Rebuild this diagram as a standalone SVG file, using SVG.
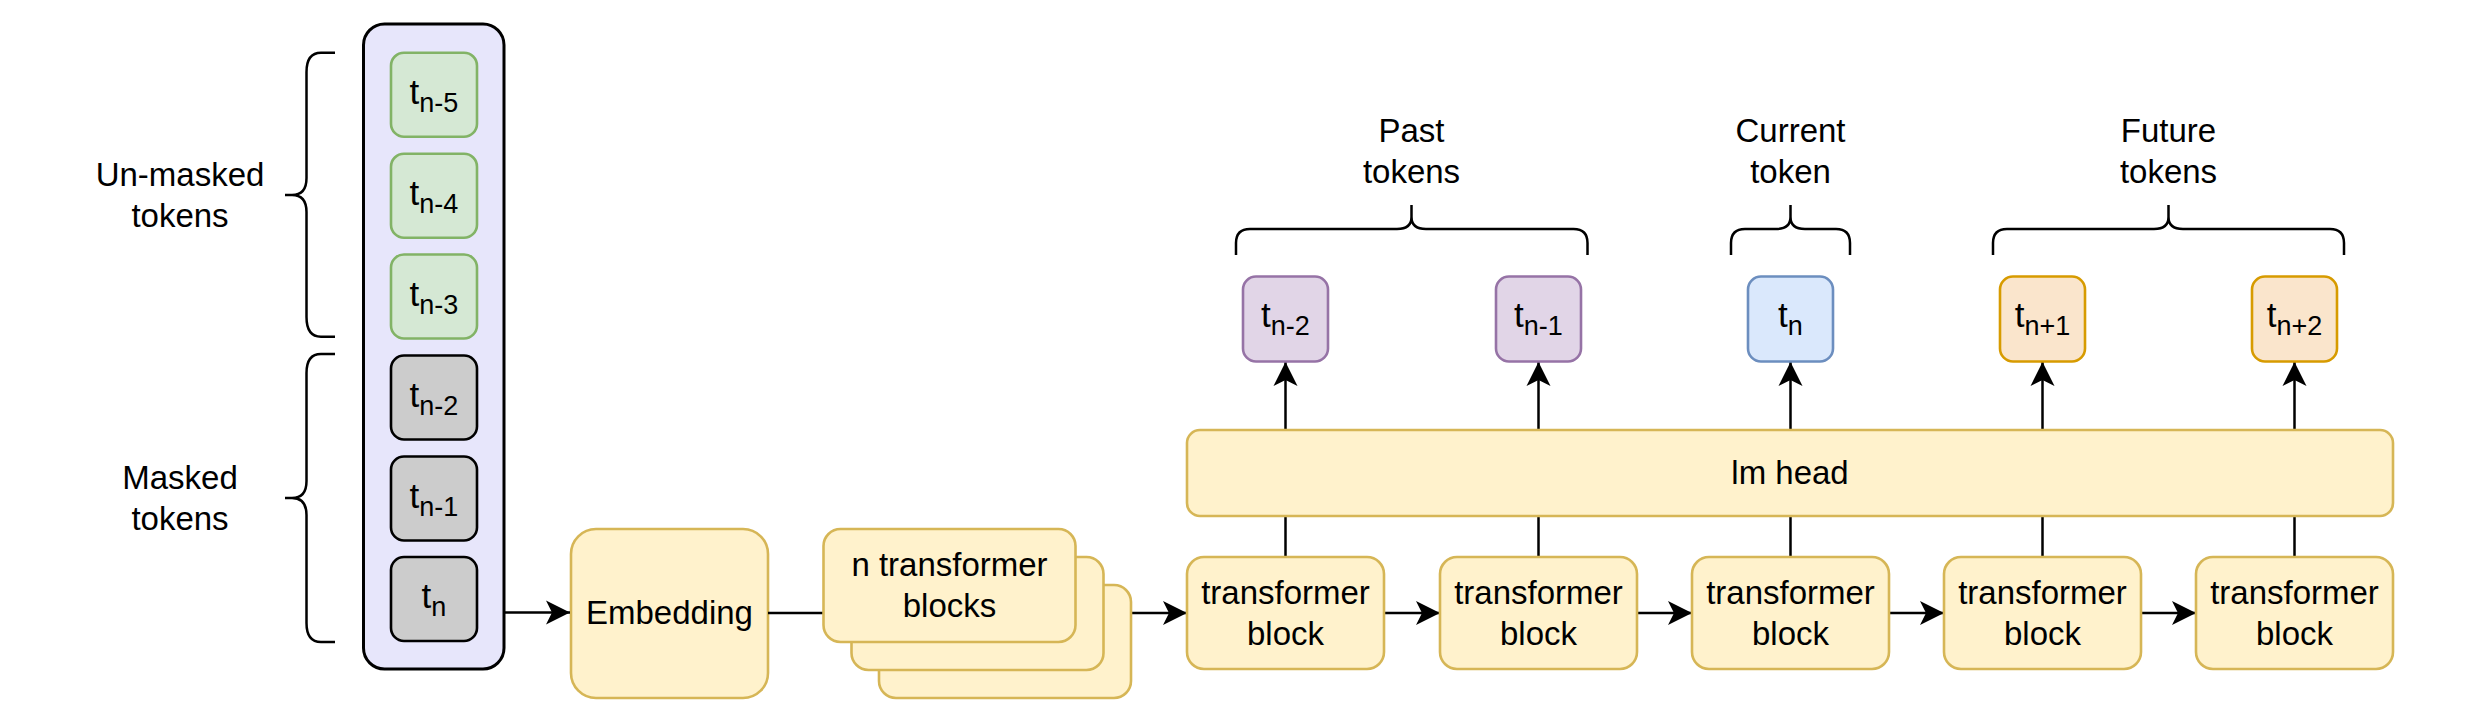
<svg xmlns="http://www.w3.org/2000/svg" width="2478" height="725" viewBox="0 0 2478 725">
<defs>
<style>
text{font-family:"Liberation Sans",Arial,Helvetica,sans-serif;font-size:33px;fill:#000;text-anchor:middle}
.tok{font-size:35px}
.sub{font-size:27px}
.yel{fill:#fff2cc;stroke:#d6b656;stroke-width:2.6}
.grn{fill:#d5e8d4;stroke:#82b366;stroke-width:2.6}
.gry{fill:#cccccc;stroke:#000;stroke-width:2.6}
.pur{fill:#e1d5e7;stroke:#9673a6;stroke-width:2.6}
.blu{fill:#dae8fc;stroke:#6c8ebf;stroke-width:2.6}
.org{fill:#fae5cc;stroke:#d79b00;stroke-width:2.6}
.edge{fill:none;stroke:#000;stroke-width:2.5}
.brace{fill:none;stroke:#000;stroke-width:2.5}
</style>
<marker id="arr" markerUnits="userSpaceOnUse" viewBox="-25 -13 26 26" markerWidth="26" markerHeight="26" refX="0" refY="0" orient="auto">
<path d="M0,0 L-24,-12 L-18,0 L-24,12 Z" fill="#000"/>
</marker>
</defs>
<rect width="2478" height="725" fill="#fff"/>

<g id="brace-unmasked">
<path class="brace" d="M335,52.7 H321 Q306.5,52.7 306.5,72 V178 Q306.5,195 292,195 H285 M292,195 Q306.5,195 306.5,212 V317 Q306.5,336.7 321,336.7 H335"/>
<text x="180" y="186">Un-masked</text>
<text x="180" y="227">tokens</text>
</g>
<g id="brace-masked">
<path class="brace" d="M335,354 H321 Q306.5,354 306.5,373 V481 Q306.5,498 292,498 H285 M292,498 Q306.5,498 306.5,515 V623 Q306.5,642 321,642 H335"/>
<text x="180" y="489">Masked</text>
<text x="180" y="530">tokens</text>
</g>

<g id="input-tokens">
<rect x="363.5" y="24" width="140.5" height="645" rx="21" fill="#e7e6fb" stroke="#000" stroke-width="3"/>
</g>
<g id="tok-n5"><rect class="grn" x="391" y="52.7" width="86" height="84" rx="13"/><text class="tok" x="434" y="103.5">t<tspan class="sub" dy="8">n-5</tspan></text></g>
<g id="tok-n4"><rect class="grn" x="391" y="153.7" width="86" height="84" rx="13"/><text class="tok" x="434" y="204.5">t<tspan class="sub" dy="8">n-4</tspan></text></g>
<g id="tok-n3"><rect class="grn" x="391" y="254.5" width="86" height="84" rx="13"/><text class="tok" x="434" y="305.5">t<tspan class="sub" dy="8">n-3</tspan></text></g>
<g id="tok-n2"><rect class="gry" x="391" y="355.5" width="86" height="84" rx="13"/><text class="tok" x="434" y="406.5">t<tspan class="sub" dy="8">n-2</tspan></text></g>
<g id="tok-n1"><rect class="gry" x="391" y="456.5" width="86" height="84" rx="13"/><text class="tok" x="434" y="507.5">t<tspan class="sub" dy="8">n-1</tspan></text></g>
<g id="tok-n"><rect class="gry" x="391" y="557" width="86" height="84" rx="13"/><text class="tok" x="434" y="608">t<tspan class="sub" dy="8">n</tspan></text></g>

<g id="embedding"><rect class="yel" x="571" y="529" width="197" height="169" rx="25"/><text x="669.5" y="624">Embedding</text></g>

<g id="connectors">
<line class="edge" x1="504" y1="612.5" x2="570" y2="612.5" marker-end="url(#arr)"/>
<line class="edge" x1="768" y1="613" x2="824" y2="613"/>
<line class="edge" x1="1131" y1="613" x2="1187" y2="613" marker-end="url(#arr)"/>
<line class="edge" x1="1384" y1="613" x2="1440" y2="613" marker-end="url(#arr)"/>
<line class="edge" x1="1636" y1="613" x2="1692" y2="613" marker-end="url(#arr)"/>
<line class="edge" x1="1889" y1="613" x2="1944" y2="613" marker-end="url(#arr)"/>
<line class="edge" x1="2140" y1="613" x2="2196" y2="613" marker-end="url(#arr)"/>
<line class="edge" x1="1285.5" y1="557" x2="1285.5" y2="516"/>
<line class="edge" x1="1538.5" y1="557" x2="1538.5" y2="516"/>
<line class="edge" x1="1790.5" y1="557" x2="1790.5" y2="516"/>
<line class="edge" x1="2042.5" y1="557" x2="2042.5" y2="516"/>
<line class="edge" x1="2294.5" y1="557" x2="2294.5" y2="516"/>
<line class="edge" x1="1285.5" y1="430" x2="1285.5" y2="362" marker-end="url(#arr)"/>
<line class="edge" x1="1538.5" y1="430" x2="1538.5" y2="362" marker-end="url(#arr)"/>
<line class="edge" x1="1790.5" y1="430" x2="1790.5" y2="362" marker-end="url(#arr)"/>
<line class="edge" x1="2042.5" y1="430" x2="2042.5" y2="362" marker-end="url(#arr)"/>
<line class="edge" x1="2294.5" y1="430" x2="2294.5" y2="362" marker-end="url(#arr)"/>
</g>

<g id="n-transformer-blocks">
<rect class="yel" x="879" y="585" width="252" height="113" rx="17"/>
<rect class="yel" x="851.5" y="557" width="252" height="113" rx="17"/>
<rect class="yel" x="823.5" y="529" width="252" height="113" rx="17"/>
<text x="949.5" y="576">n transformer</text>
<text x="949.5" y="617">blocks</text>
</g>

<g id="block1"><rect class="yel" x="1187" y="557" width="197" height="112" rx="17"/><text x="1285.5" y="604">transformer</text><text x="1285.5" y="645">block</text></g>
<g id="block2"><rect class="yel" x="1440" y="557" width="197" height="112" rx="17"/><text x="1538.5" y="604">transformer</text><text x="1538.5" y="645">block</text></g>
<g id="block3"><rect class="yel" x="1692" y="557" width="197" height="112" rx="17"/><text x="1790.5" y="604">transformer</text><text x="1790.5" y="645">block</text></g>
<g id="block4"><rect class="yel" x="1944" y="557" width="197" height="112" rx="17"/><text x="2042.5" y="604">transformer</text><text x="2042.5" y="645">block</text></g>
<g id="block5"><rect class="yel" x="2196" y="557" width="197" height="112" rx="17"/><text x="2294.5" y="604">transformer</text><text x="2294.5" y="645">block</text></g>

<g id="lm-head"><rect class="yel" x="1187" y="430" width="1206" height="86" rx="13"/><text x="1790" y="484">lm head</text></g>

<g id="out-n2"><rect class="pur" x="1243" y="276.5" width="85" height="85" rx="13"/><text class="tok" x="1285.5" y="327">t<tspan class="sub" dy="8">n-2</tspan></text></g>
<g id="out-n1"><rect class="pur" x="1496" y="276.5" width="85" height="85" rx="13"/><text class="tok" x="1538.5" y="327">t<tspan class="sub" dy="8">n-1</tspan></text></g>
<g id="out-n"><rect class="blu" x="1748" y="276.5" width="85" height="85" rx="13"/><text class="tok" x="1790.5" y="327">t<tspan class="sub" dy="8">n</tspan></text></g>
<g id="out-np1"><rect class="org" x="2000" y="276.5" width="85" height="85" rx="13"/><text class="tok" x="2042.5" y="327">t<tspan class="sub" dy="8">n+1</tspan></text></g>
<g id="out-np2"><rect class="org" x="2252" y="276.5" width="85" height="85" rx="13"/><text class="tok" x="2294.5" y="327">t<tspan class="sub" dy="8">n+2</tspan></text></g>

<g id="brace-past">
<path class="brace" d="M1236,255 V243 Q1236,229 1250,229 H1397 Q1411.5,229 1411.5,217 V205 M1411.5,217 Q1411.5,229 1426,229 H1573.5 Q1587.5,229 1587.5,243 V255"/>
<text x="1411.5" y="142">Past</text>
<text x="1411.5" y="183">tokens</text>
</g>
<g id="brace-current">
<path class="brace" d="M1731,255 V243 Q1731,229 1745,229 H1776 Q1790.5,229 1790.5,217 V205 M1790.5,217 Q1790.5,229 1805,229 H1836 Q1850,229 1850,243 V255"/>
<text x="1790.5" y="142">Current</text>
<text x="1790.5" y="183">token</text>
</g>
<g id="brace-future">
<path class="brace" d="M1993,255 V243 Q1993,229 2007,229 H2154 Q2168.5,229 2168.5,217 V205 M2168.5,217 Q2168.5,229 2183,229 H2330 Q2344,229 2344,243 V255"/>
<text x="2168.5" y="142">Future</text>
<text x="2168.5" y="183">tokens</text>
</g>
</svg>
